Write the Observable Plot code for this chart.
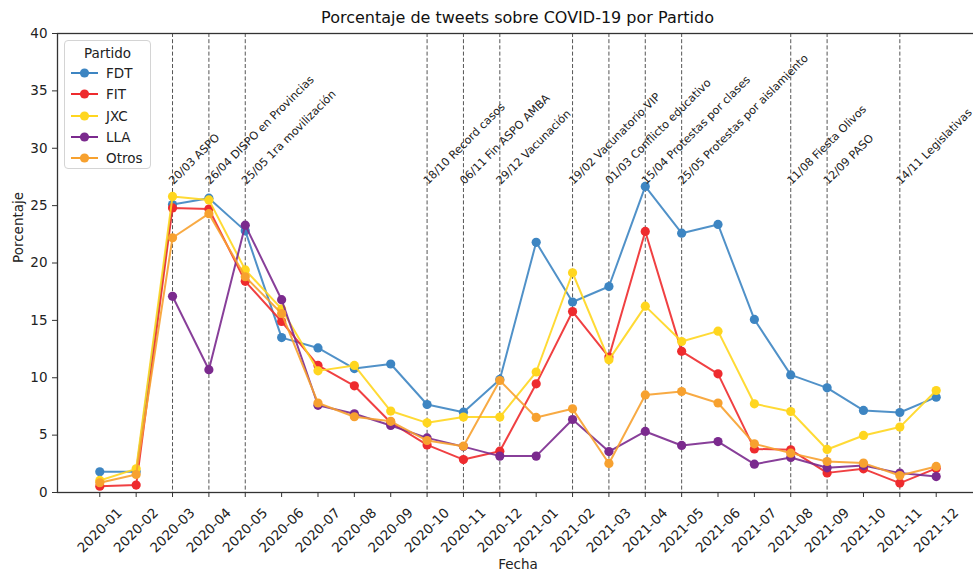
<!DOCTYPE html>
<html>
<head>
<meta charset="utf-8">
<script src="https://cdn.jsdelivr.net/npm/d3@7"></script>
<script src="https://cdn.jsdelivr.net/npm/@observablehq/plot@0.6"></script>
<style>
  body { margin: 0; background: #fff; font-family: "DejaVu Sans", sans-serif; color: #222; }
  #wrap { position: relative; width: 973px; height: 571px; overflow: hidden; }
  #title { height: 30px; padding-left: 57px; width: 921px; text-align: center; font-size: 16px; line-height: 36px; color: #111; }
  #legend { position: absolute; left: 64px; top: 40px; width: 85px; height: 127px; border: 1px solid #d4d4d4; border-radius: 4px; background: rgba(255,255,255,0.85); font-size: 13.5px; }
  #legend .lt { position: absolute; left: 0; width: 85px; top: 3px; text-align: center; line-height: 18px; }
  #legend .row { position: absolute; left: 0; height: 18px; line-height: 18px; }
  #legend svg { position: absolute; left: 5px; top: 3px; }
  #legend .lab { position: absolute; left: 41px; top: 0; white-space: nowrap; }
</style>
</head>
<body>
<div id="wrap">
  <div id="title">Porcentaje de tweets sobre COVID-19 por Partido</div>
  <div id="chart"></div>
  <div id="legend"></div>
</div>
<script>
const months = ["2020-01","2020-02","2020-03","2020-04","2020-05","2020-06","2020-07","2020-08","2020-09","2020-10","2020-11","2020-12",
                "2021-01","2021-02","2021-03","2021-04","2021-05","2021-06","2021-07","2021-08","2021-09","2021-10","2021-11","2021-12"];
const parties = ["FDT", "FIT", "JXC", "LLA", "Otros"];
const colors = ["#3d85c2", "#ee2b2e", "#ffd61f", "#7b2a8e", "#f7a12f"];

const fdt   = [1.8, 1.8, 25.1, 25.65, 22.8, 13.5, 12.6, 10.8, 11.2, 7.67, 7.0, 9.85, 21.8, 16.6, 17.95, 26.67, 22.6, 23.36, 15.08, 10.25, 9.12, 7.15, 6.97, 8.31];
const fit   = [0.55, 0.65, 24.8, 24.7, 18.4, 14.9, 11.07, 9.3, 6.1, 4.15, 2.87, 3.6, 9.47, 15.77, 11.8, 22.75, 12.3, 10.34, 3.8, 3.72, 1.71, 2.06, 0.82, 2.1];
const jxc   = [1.05, 2.06, 25.8, 25.5, 19.4, 16.0, 10.6, 11.07, 7.1, 6.07, 6.57, 6.57, 10.5, 19.15, 11.56, 16.24, 13.16, 14.06, 7.73, 7.06, 3.75, 4.97, 5.7, 8.89];
const lla   = [null, null, 17.1, 10.7, 23.3, 16.8, 7.6, 6.86, 5.84, 4.76, 4.0, 3.17, 3.17, 6.36, 3.57, 5.32, 4.1, 4.44, 2.47, 3.05, 2.15, 2.35, 1.69, 1.39];
const otros = [0.85, 1.57, 22.2, 24.3, 18.8, 15.6, 7.8, 6.6, 6.2, 4.53, 4.04, 9.76, 6.54, 7.29, 2.53, 8.5, 8.8, 7.8, 4.24, 3.43, 2.7, 2.56, 1.48, 2.27];
const seriesValues = [fdt, fit, jxc, lla, otros];

const eventMonths = ["2020-03","2020-04","2020-05","2020-10","2020-11","2020-12","2021-02","2021-03","2021-04","2021-05","2021-08","2021-09","2021-11"];
const eventLabels = ["20/03 ASPO","26/04 DISPO en Provincias","25/05 1ra movilización","18/10 Record casos","06/11 Fin ASPO AMBA","29/12 Vacunación",
                     "19/02 Vacunatorio VIP","01/03 Conflicto educativo","15/04 Protestas por clases","25/05 Protestas por aislamiento",
                     "11/08 Fiesta Olivos","12/09 PASO","14/11 Legislativas"];
const annotationY = 26.8;
const yTicks = [0, 5, 10, 15, 20, 25, 30, 35, 40];

const events = eventMonths.map((m, i) => ({month: m, label: eventLabels[i]}));

const seriesMarks = [];
parties.forEach((p, k) => {
  const rows = months.map((m, i) => ({month: m, value: seriesValues[k][i], party: p})).filter(d => d.value != null);
  seriesMarks.push(Plot.line(rows, {x: "month", y: "value", stroke: colors[k], strokeWidth: 2, strokeOpacity: 0.9}));
  seriesMarks.push(Plot.dot(rows, {x: "month", y: "value", fill: colors[k], r: 4.6, stroke: "none"}));
});

const chart = Plot.plot({
  width: 973,
  height: 541,
  marginTop: 3,
  marginLeft: 57,
  marginRight: -5,
  marginBottom: 79,
  style: {fontFamily: "DejaVu Sans, sans-serif", fontSize: "13.5px", color: "#222", background: "#fff", overflow: "visible"},
  x: {type: "point", domain: months, padding: 1.163, round: false},
  y: {domain: [0, 40]},
  marks: [
    Plot.ruleX(events, {x: "month", stroke: "#555", strokeWidth: 1, strokeDasharray: "4,2.2"}),
    ...seriesMarks,
    Plot.text(events, {x: "month", y: () => annotationY, text: "label", rotate: -45, textAnchor: "start", lineAnchor: "bottom", fontSize: 11.2, fill: "#222", dx: 1}),
    Plot.frame({stroke: "#333", strokeWidth: 1.3}),
    Plot.axisY(yTicks, {tickSize: 5, tickPadding: 5, label: null, fontSize: 13.5, stroke: "#333"}),
    Plot.axisX({tickSize: 5, tickFormat: () => "", label: null, stroke: "#333"}),
    Plot.text(months, {x: d => d, text: d => d, frameAnchor: "bottom", rotate: -45, textAnchor: "middle", lineAnchor: "middle", dy: 38, fontSize: 13.5, fill: "#222"}),
    Plot.text(["Fecha"], {frameAnchor: "bottom", text: d => d, dy: 76, fontSize: 13.5, fill: "#222"}),
    Plot.text(["Porcentaje"], {frameAnchor: "left", text: d => d, dx: -39, rotate: -90, fontSize: 13.5, fill: "#222"})
  ]
});
document.getElementById("chart").appendChild(chart);

// legend
const leg = document.getElementById("legend");
const lt = document.createElement("div");
lt.className = "lt";
lt.textContent = "Partido";
leg.appendChild(lt);
const rowCenters = [32.3, 53.3, 74.7, 95.8, 116.7];
parties.forEach((p, k) => {
  const row = document.createElement("div");
  row.className = "row";
  row.style.top = (rowCenters[k] - 9) + "px";
  row.innerHTML = `<svg width="30" height="12"><line x1="1" y1="6" x2="28" y2="6" stroke="${colors[k]}" stroke-width="2"/><circle cx="14.5" cy="6" r="4.6" fill="${colors[k]}"/></svg><span class="lab">${p}</span>`;
  leg.appendChild(row);
});
</script>
</body>
</html>
